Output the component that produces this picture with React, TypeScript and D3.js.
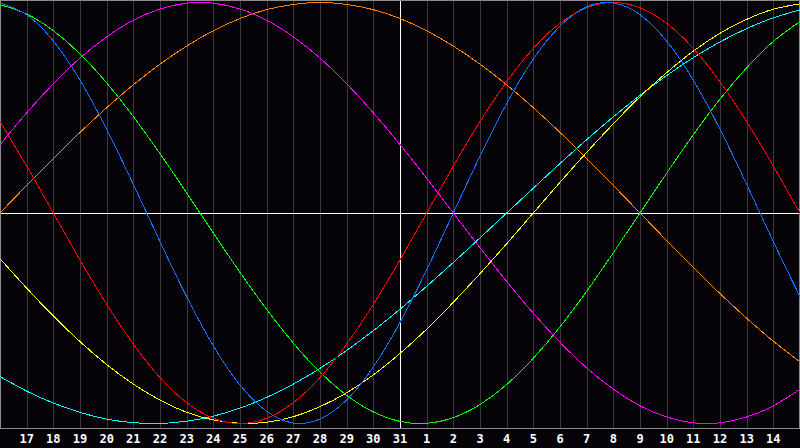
import React, { useEffect, useRef } from 'react';
import * as d3 from 'd3';

// day labels, one per grid column (first = left edge, last = right edge)
const days = [16, 17, 18, 19, 20, 21, 22, 23, 24, 25, 26, 27, 28, 29, 30, 31,
  1, 2, 3, 4, 5, 6, 7, 8, 9, 10, 11, 12, 13, 14, 15];
const todayIndex = 15;

const red = [0.434, 0.223, 0, -0.223, -0.434, -0.623, -0.782, -0.901, -0.975, -1, -0.975, -0.901, -0.782, -0.623, -0.434, -0.223,
  0, 0.223, 0.434, 0.623, 0.782, 0.901, 0.975, 1, 0.975, 0.901, 0.782, 0.623, 0.434, 0.223, 0];
const blue = [0.998, 0.942, 0.817, 0.631, 0.398, 0.136, -0.136, -0.398, -0.631, -0.817, -0.942, -0.998, -0.979, -0.888, -0.731, -0.520,
  -0.270, 0, 0.270, 0.520, 0.731, 0.888, 0.979, 0.998, 0.942, 0.817, 0.631, 0.398, 0.136, -0.136, -0.398];
const green = [0.990, 0.945, 0.866, 0.756, 0.618, 0.458, 0.282, 0.095, -0.095, -0.282, -0.458, -0.618, -0.756, -0.866, -0.945, -0.990,
  -0.999, -0.972, -0.910, -0.815, -0.690, -0.541, -0.372, -0.189, 0, 0.189, 0.372, 0.541, 0.690, 0.815, 0.910];
const magenta = [0.325, 0.476, 0.614, 0.736, 0.837, 0.916, 0.969, 0.997, 0.997, 0.969, 0.916, 0.837, 0.736, 0.614, 0.476, 0.325,
  0.165, 0, -0.165, -0.325, -0.476, -0.614, -0.736, -0.837, -0.916, -0.969, -0.997, -0.997, -0.969, -0.916, -0.837];
const orange = [0, 0.131, 0.259, 0.383, 0.500, 0.609, 0.707, 0.793, 0.866, 0.924, 0.966, 0.991, 1, 0.991, 0.966, 0.924,
  0.866, 0.793, 0.707, 0.609, 0.500, 0.383, 0.259, 0.131, 0, -0.131, -0.259, -0.383, -0.500, -0.609, -0.707];
const cyan = [-0.777, -0.846, -0.903, -0.947, -0.979, -0.996, -1.000, -0.989, -0.965, -0.927, -0.876, -0.813, -0.738, -0.653, -0.559, -0.457,
  -0.348, -0.235, -0.118, 0, 0.118, 0.235, 0.348, 0.457, 0.559, 0.653, 0.738, 0.813, 0.876, 0.927, 0.965];
const yellow = [-0.217, -0.357, -0.489, -0.611, -0.720, -0.813, -0.889, -0.947, -0.983, -0.999, -0.994, -0.968, -0.920, -0.854, -0.769, -0.667,
  -0.552, -0.424, -0.288, -0.146, 0, 0.146, 0.288, 0.424, 0.552, 0.667, 0.769, 0.854, 0.920, 0.968, 0.994];

const series = [
  { name: 'orange', values: orange, color: '#ff8000' },
  { name: 'magenta', values: magenta, color: '#ff00ff' },
  { name: 'cyan', values: cyan, color: '#00ffff' },
  { name: 'yellow', values: yellow, color: '#ffff00' },
  { name: 'green', values: green, color: '#00ff00' },
  { name: 'red', values: red, color: '#ff0000' },
  { name: 'blue', values: blue, color: '#1070ff' },
];

const App: React.FC = () => {
  const svgRef = useRef<SVGSVGElement>(null);

  useEffect(() => {
    if (!svgRef.current) return;
    const svg = d3.select(svgRef.current);
    svg.selectAll('*').remove();

    const W = 800;
    const H = 448;
    const plotBottom = 428;

    const x = d3.scaleLinear().domain([0, days.length - 1]).range([0, W]);
    const y = d3.scaleLinear().domain([-1, 1]).range([423.5, 2.5]);

    svg.append('rect').attr('width', W).attr('height', H).style('fill', '#050308');

    // day grid
    svg.append('g')
      .selectAll('line')
      .data(days.map((_, i) => i).slice(1, -1))
      .join('line')
      .attr('x1', d => Math.round(x(d)) + 0.5)
      .attr('x2', d => Math.round(x(d)) + 0.5)
      .attr('y1', 0)
      .attr('y2', plotBottom)
      .style('stroke', '#3a3a3a')
      .style('stroke-width', 1);

    // zero line and today line
    svg.append('line')
      .attr('x1', 0).attr('x2', W)
      .attr('y1', Math.round(y(0)) + 0.5).attr('y2', Math.round(y(0)) + 0.5)
      .style('stroke', '#ffffff');
    svg.append('line')
      .attr('x1', Math.round(x(todayIndex)) + 0.5).attr('x2', Math.round(x(todayIndex)) + 0.5)
      .attr('y1', 0).attr('y2', plotBottom)
      .style('stroke', '#ffffff');

    // frame
    svg.append('rect')
      .attr('x', 0.5).attr('y', 0.5)
      .attr('width', W - 1).attr('height', plotBottom)
      .style('fill', 'none')
      .style('stroke', '#8c8c8c');

    const line = d3.line<number>()
      .x((_, i) => x(i))
      .y(d => y(d))
      .curve(d3.curveNatural);

    series.forEach(s => {
      svg.append('path')
        .datum(s.values)
        .attr('d', line)
        .style('fill', 'none')
        .style('stroke', s.color)
        .style('stroke-width', 1)
        .attr('shape-rendering', 'crispEdges');
    });

    // day labels
    svg.append('g')
      .selectAll('text')
      .data(days.slice(1, -1))
      .join('text')
      .attr('x', (_, i) => x(i + 1))
      .attr('y', 443)
      .style('text-anchor', 'middle')
      .style('font-family', '"DejaVu Sans Mono", monospace')
      .style('font-weight', 'bold')
      .style('font-size', '12px')
      .style('fill', '#ffffff')
      .text(d => String(d));
  }, []);

  return (
    <svg
      ref={svgRef}
      width={800}
      height={448}
      style={{ position: 'absolute', left: 0, top: 0, display: 'block' }}
    />
  );
};

export default App;
